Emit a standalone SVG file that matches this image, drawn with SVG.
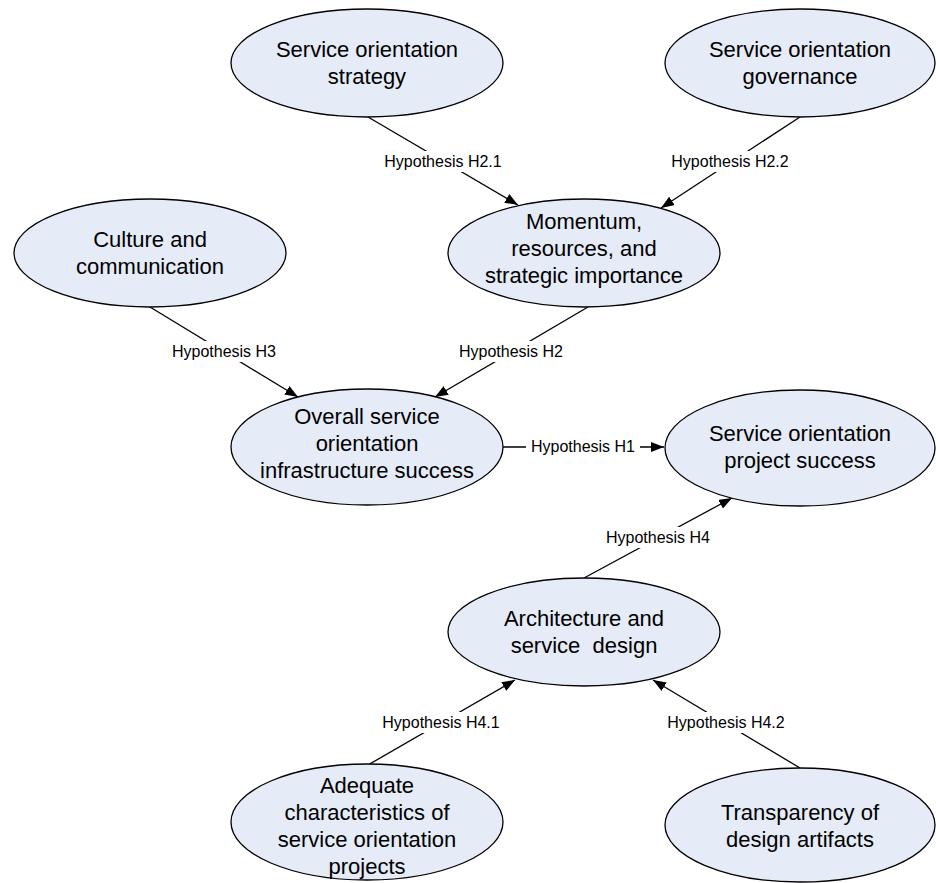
<svg xmlns="http://www.w3.org/2000/svg" width="936" height="883" viewBox="0 0 936 883">
<style>
.node ellipse{fill:#E5EBF7;stroke:#000;stroke-width:1.3}
.node text{font-family:"Liberation Sans",Arial,sans-serif;font-size:22px;fill:#000;text-anchor:middle}
.edge line{stroke:#000;stroke-width:1.3}
.lbl rect{fill:#fff}
.lbl text{font-family:"Liberation Sans",Arial,sans-serif;font-size:16px;fill:#000;text-anchor:middle}
</style>
<defs>
<marker id="arr" markerUnits="userSpaceOnUse" markerWidth="14" markerHeight="12" refX="13" refY="5" orient="auto">
<path d="M0,0 L13,5 L0,10 z" fill="#000"/>
</marker>
</defs>
<rect width="936" height="883" fill="#fff"/>
<g id="connectors">
<g class="edge">
<line x1="368" y1="117" x2="518" y2="205" marker-end="url(#arr)"/>
<line x1="800" y1="117" x2="661" y2="208" marker-end="url(#arr)"/>
<line x1="150" y1="307" x2="298" y2="397" marker-end="url(#arr)"/>
<line x1="588" y1="307" x2="435" y2="397" marker-end="url(#arr)"/>
<line x1="503" y1="447" x2="664" y2="447" marker-end="url(#arr)"/>
<line x1="584" y1="578" x2="732" y2="498" marker-end="url(#arr)"/>
<line x1="368" y1="765" x2="515" y2="680" marker-end="url(#arr)"/>
<line x1="800" y1="768" x2="653" y2="680" marker-end="url(#arr)"/>
</g>
<g class="lbl">
<rect x="380" y="151" width="126" height="21"/><text x="443" y="167">Hypothesis H2.1</text>
<rect x="667" y="151" width="126" height="21"/><text x="730" y="167">Hypothesis H2.2</text>
<rect x="167" y="341" width="114" height="21"/><text x="224" y="357">Hypothesis H3</text>
<rect x="454" y="341" width="114" height="21"/><text x="511" y="357">Hypothesis H2</text>
<rect x="526" y="436" width="114" height="21"/><text x="583" y="452">Hypothesis H1</text>
<rect x="601" y="527" width="114" height="21"/><text x="658" y="543">Hypothesis H4</text>
<rect x="378" y="712" width="126" height="21"/><text x="441" y="728">Hypothesis H4.1</text>
<rect x="663" y="712" width="126" height="21"/><text x="726" y="728">Hypothesis H4.2</text>
</g>
</g>
<g id="n-strategy" class="node"><ellipse cx="367" cy="63" rx="136" ry="54"/><text x="367" y="57">Service orientation</text><text x="367" y="84">strategy</text></g>
<g id="n-governance" class="node"><ellipse cx="800" cy="63" rx="135" ry="54"/><text x="800" y="57">Service orientation</text><text x="800" y="84">governance</text></g>
<g id="n-culture" class="node"><ellipse cx="150" cy="253" rx="136" ry="54"/><text x="150" y="247">Culture and</text><text x="150" y="274">communication</text></g>
<g id="n-momentum" class="node"><ellipse cx="584" cy="253" rx="136" ry="54"/><text x="584" y="229">Momentum,</text><text x="584" y="256">resources, and</text><text x="584" y="283">strategic importance</text></g>
<g id="n-overall" class="node"><ellipse cx="367" cy="447" rx="136" ry="58"/><text x="367" y="424">Overall service</text><text x="367" y="451">orientation</text><text x="367" y="478">infrastructure success</text></g>
<g id="n-project" class="node"><ellipse cx="800" cy="448" rx="135" ry="58"/><text x="800" y="441">Service orientation</text><text x="800" y="468">project success</text></g>
<g id="n-architecture" class="node"><ellipse cx="584" cy="632" rx="136" ry="54"/><text x="584" y="626">Architecture and</text><text x="584" y="653" xml:space="preserve">service  design</text></g>
<g id="n-adequate" class="node"><ellipse cx="367" cy="822" rx="136" ry="58"/><text x="367" y="793">Adequate</text><text x="367" y="820">characteristics of</text><text x="367" y="847">service orientation</text><text x="367" y="874">projects</text></g>
<g id="n-transparency" class="node"><ellipse cx="800" cy="825" rx="135" ry="57"/><text x="800" y="820">Transparency of</text><text x="800" y="847">design artifacts</text></g>
</svg>
